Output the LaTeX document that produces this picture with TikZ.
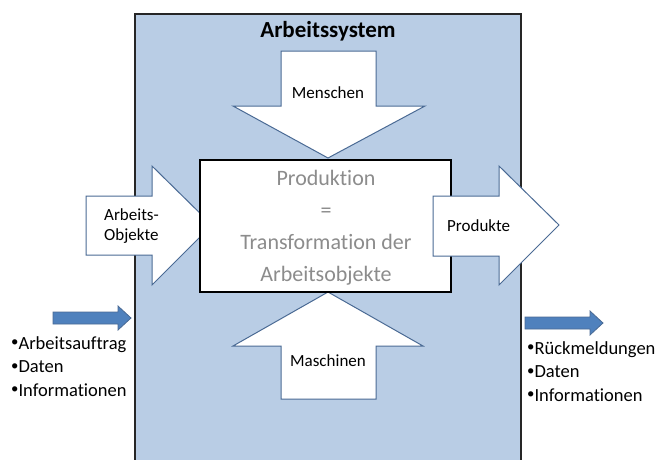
\documentclass[tikz,border=0pt]{standalone}
\usepackage{fontspec}
\setmainfont{Carlito}[Ligatures=NoCommon]
\definecolor{sysblue}{HTML}{B9CDE5}
\definecolor{arrowline}{HTML}{4A6A94}
\definecolor{arrowfill}{HTML}{4F81BD}
\definecolor{graytext}{HTML}{8C8C8C}
% small list bullet
\newcommand{\listdot}{\raisebox{0.12em}{\scalebox{0.8}{•}}}
\begin{document}
\begin{tikzpicture}[x=1pt,y=-1pt,
  bigarrow/.style={draw=arrowline,fill=white,line width=1pt,line join=miter},
  smallarrow/.style={draw=arrowline,fill=arrowfill,line width=0.8pt},
  label/.style={font=\fontsize{17}{20}\selectfont,text=black,inner sep=0pt},
  listtext/.style={font=\fontsize{18.5}{23.5}\selectfont,align=left,anchor=north west,inner sep=0pt}]
\useasboundingbox (0,0) rectangle (662,459);
\fill[white] (0,0) rectangle (662,459);

% work system area, open at the bottom edge
\fill[sysblue] (135,14) rectangle (521,462);
\draw[line width=1.2pt,black!85] (135,462) -- (135,14) -- (521,14) -- (521,462);
\node[font=\fontsize{23}{26}\selectfont\bfseries,inner sep=0pt] (title) at (328,31) {Arbeitssystem};

% input "Menschen" from above
\draw[bigarrow] (281,51) -- (376,51) -- (376,106) -- (425,106) -- (328,158)
  -- (233,106) -- (281,106) -- cycle;
\node[label] (menschen) at (328,93) {Menschen};

% input "Maschinen" from below
\draw[bigarrow] (281,399) -- (376,399) -- (376,346) -- (423,346) -- (328,292)
  -- (233,346) -- (281,346) -- cycle;
\node[label] (maschinen) at (328,361) {Maschinen};

% input "Arbeits-Objekte" from the left
\draw[bigarrow] (86,196) -- (152,196) -- (152,166) -- (212,225) -- (152,285)
  -- (152,255) -- (86,255) -- cycle;
\node[label,align=left,anchor=west,font=\fontsize{17}{20}\selectfont] (objekte) at (104,226) {Arbeits-\\Objekte};

% production box
\node[draw=black,line width=1.2pt,fill=white,minimum width=251pt,minimum height=132pt,
  inner sep=0pt] (prod) at (325.5,226) {};
\node[font=\fontsize{22}{32}\selectfont,text=graytext,align=center,inner sep=0pt]
  (prodtext) at (326,228) {Produktion\\=\\Transformation der\\Arbeitsobjekte};

% output "Produkte" to the right
\draw[bigarrow] (433,196) -- (499,196) -- (499,166) -- (559,225) -- (499,285)
  -- (499,256) -- (433,256) -- cycle;
\node[label,anchor=west] (produkte) at (447,226) {Produkte};

% information flow in
\draw[smallarrow] (53,312) -- (118,312) -- (118,306) -- (131,318) -- (118,330)
  -- (118,324) -- (53,324) -- cycle;
\node[listtext] (inlist) at (11,336) {\listdot Arbeitsauftrag\\\listdot Daten\\\listdot Informationen};

% information flow out
\draw[smallarrow] (525,317) -- (590,317) -- (590,311) -- (603,323) -- (590,335)
  -- (590,329) -- (525,329) -- cycle;
\node[listtext] (outlist) at (527,341) {\listdot Rückmeldungen\\\listdot Daten\\\listdot Informationen};
\end{tikzpicture}
\end{document}
